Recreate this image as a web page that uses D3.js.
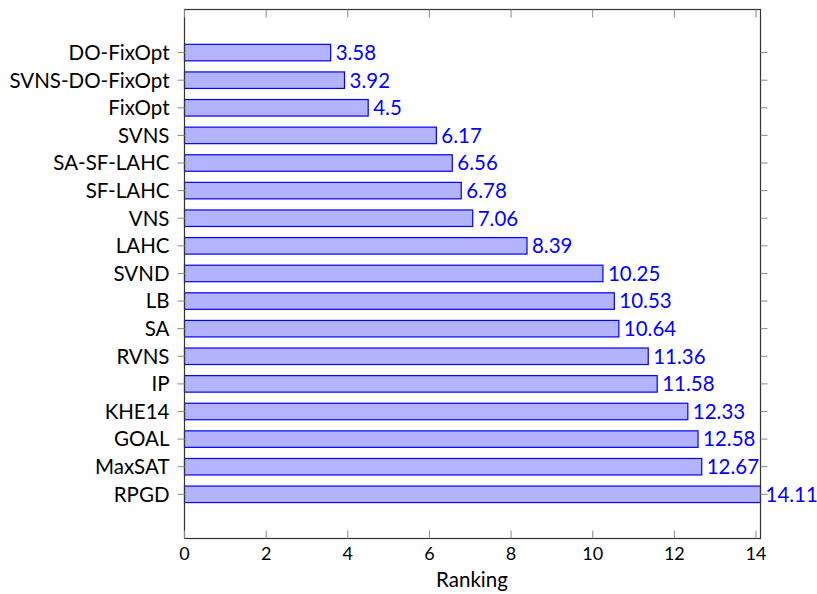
<!DOCTYPE html>
<html><head><meta charset="utf-8">
<script src="https://cdn.jsdelivr.net/npm/d3@7"></script>
<style>body{margin:0;background:#fff}svg{font-family:Lato,"Noto Sans",sans-serif}</style>
</head><body>
<svg id="c" width="817" height="594"></svg>
<script>
const categories = ["DO-FixOpt","SVNS-DO-FixOpt","FixOpt","SVNS","SA-SF-LAHC","SF-LAHC","VNS","LAHC","SVND","LB","SA","RVNS","IP","KHE14","GOAL","MaxSAT","RPGD"];
const values = [3.58,3.92,4.5,6.17,6.56,6.78,7.06,8.39,10.25,10.53,10.64,11.36,11.58,12.33,12.58,12.67,14.11];
const xTicks = [0,2,4,6,8,10,12,14];
const xTitle = "Ranking";

const svg = d3.select("#c");
const L = 184.5, R = 760.5, T = 9.5, B = 538.5;
const x = d3.scaleLinear().domain([0, d3.max(values)]).range([L, R]);
const y = d3.scaleLinear().domain([-1.56, categories.length - 1 + 1.6]).range([T, B]);
const bh = 16.5;
const FS = 20.5;

const g = svg.append("g");
g.selectAll("rect.bar").data(values).join("rect")
  .attr("x", x(0)).attr("y", (d,i)=>y(i)-bh/2)
  .attr("width", d=>x(d)-x(0)).attr("height", bh)
  .attr("fill","#b3b3ff").attr("stroke","#0000ff").attr("stroke-width",1.2);

g.selectAll("text.val").data(values).join("text")
  .attr("x", d=>x(d)+5).attr("y",(d,i)=>y(i)).attr("dy","0.36em")
  .attr("fill","#0000ff").attr("font-size",FS).text(d=>d);

// axes frame
svg.append("rect").attr("x",L).attr("y",T).attr("width",R-L).attr("height",B-T)
  .attr("fill","none").attr("stroke","#333").attr("stroke-width",1.2);

// x ticks
xTicks.forEach(t=>{
  svg.append("line").attr("x1",x(t)).attr("x2",x(t)).attr("y1",B).attr("y2",B-8).attr("stroke","#888");
  svg.append("line").attr("x1",x(t)).attr("x2",x(t)).attr("y1",T).attr("y2",T+8).attr("stroke","#888");
  svg.append("text").attr("x",x(t)).attr("y",560).attr("text-anchor","middle").attr("font-size",18).attr("fill","#000").text(t);
});
// y ticks
categories.forEach((c,i)=>{
  svg.append("line").attr("x1",L-7).attr("x2",L).attr("y1",y(i)).attr("y2",y(i)).attr("stroke","#888");
  svg.append("line").attr("x1",R).attr("x2",R+7).attr("y1",y(i)).attr("y2",y(i)).attr("stroke","#888");
  svg.append("text").attr("x",L-15).attr("y",y(i)).attr("dy","0.36em").attr("text-anchor","end").attr("font-size",FS).attr("fill","#000").text(c);
});
svg.append("text").attr("x",472).attr("y",587).attr("text-anchor","middle").attr("font-size",FS).text(xTitle);
</script>
</body></html>
